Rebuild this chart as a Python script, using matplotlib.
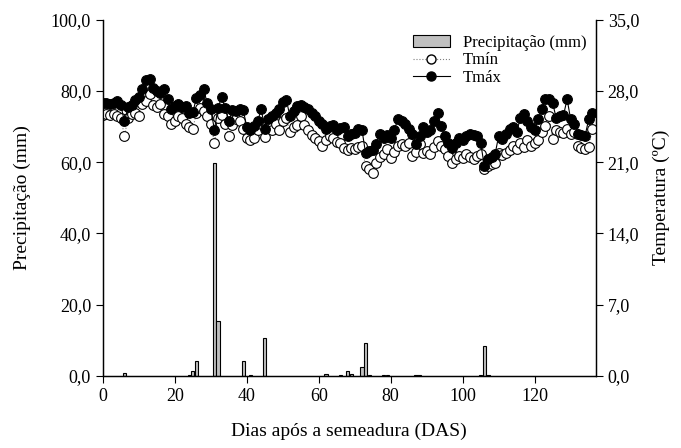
import matplotlib
matplotlib.use('Agg')
import matplotlib.pyplot as plt
from matplotlib.ticker import FuncFormatter
from matplotlib.patches import Patch
from matplotlib.lines import Line2D

# Daily temperatures (deg C), day 0..136
t_max = [26.8, 26.8, 26.7, 26.8, 27.0, 26.6, 25.0, 26.4, 26.6, 27.1,
         27.4, 28.2, 29.1, 29.2, 28.3, 28.0, 27.8, 28.2, 27.2, 26.2,
         26.5, 26.7, 26.4, 26.5, 25.8, 25.9, 27.3, 27.6, 28.2, 26.8,
         26.2, 24.2, 26.3, 27.4, 26.3, 25.0, 26.1, 26.0, 26.2, 26.1,
         24.5, 24.2, 24.6, 25.0, 26.2, 24.3, 25.2, 25.5, 25.8, 26.2,
         26.9, 27.1, 25.5, 26.0, 26.5, 26.6, 26.4, 26.2, 25.8, 25.5,
         25.0, 24.8, 24.3, 24.6, 24.7, 24.2, 24.4, 24.5, 23.6, 23.8,
         23.9, 24.3, 24.2, 21.9, 22.1, 22.2, 22.8, 23.8, 23.4, 23.7,
         23.4, 24.2, 25.2, 25.0, 24.8, 24.3, 23.8, 22.8, 23.6, 24.5,
         24.0, 24.2, 25.0, 25.8, 24.6, 23.6, 22.9, 22.4, 22.9, 23.4,
         23.2, 23.6, 23.8, 23.7, 23.6, 22.9, 20.6, 21.3, 21.5, 21.8,
         23.6, 23.3, 23.8, 24.3, 24.5, 24.0, 25.3, 25.7, 25.0, 24.5,
         24.2, 25.2, 26.2, 27.2, 27.2, 26.8, 25.3, 25.5, 25.6, 27.2,
         25.2, 24.8, 23.8, 23.7, 23.6, 25.2, 25.8]

t_min = [25.6, 25.7, 25.6, 25.7, 25.5, 25.3, 23.6, 25.3, 25.7, 25.8,
         25.5, 26.7, 27.0, 27.7, 26.6, 26.4, 26.7, 25.7, 25.5, 24.8,
         25.0, 25.5, 25.3, 24.8, 24.5, 24.3, 25.8, 26.3, 26.0, 25.5,
         24.8, 22.9, 25.3, 25.6, 24.8, 23.6, 24.7, 25.2, 25.0, 24.3,
         23.4, 23.2, 23.4, 24.2, 24.8, 23.5, 24.5, 24.2, 24.8, 24.2,
         25.0, 25.3, 24.0, 24.5, 24.7, 25.5, 24.7, 24.2, 23.7, 23.4,
         23.1, 22.6, 23.2, 23.6, 23.4, 23.0, 22.9, 22.4, 22.2, 22.4,
         22.3, 22.5, 22.6, 20.6, 20.3, 19.9, 20.9, 21.5, 21.8, 22.3,
         21.4, 22.0, 22.6, 22.8, 22.6, 22.9, 21.6, 22.0, 22.8, 21.9,
         22.1, 21.8, 22.5, 23.1, 22.6, 22.3, 21.6, 20.9, 21.3, 21.6,
         21.4, 21.8, 21.5, 21.3, 21.6, 21.8, 20.3, 20.6, 20.8, 20.9,
         21.9, 21.7, 21.9, 22.2, 22.6, 22.3, 22.9, 22.5, 23.2, 22.6,
         22.9, 23.2, 24.0, 24.6, 25.5, 23.3, 24.2, 24.0, 23.9, 24.3,
         23.8, 24.0, 22.6, 22.4, 22.3, 22.5, 24.3]

days = list(range(len(t_max)))

# Rain events (day, mm)
precip_days = [6, 24, 25, 26, 31, 32, 39, 41, 45, 62, 66, 68, 69, 72, 73, 74,
               78, 79, 87, 88, 105, 106, 107]
precip_mm = [0.8, 0.3, 1.3, 4.2, 59.8, 15.3, 4.3, 0.2, 10.7, 0.4, 0.2, 1.3,
             0.6, 2.6, 9.2, 0.3, 0.3, 0.3, 0.2, 0.2, 0.3, 8.3, 0.3]

x_ticks = [0, 20, 40, 60, 80, 100, 120]
left_ticks = [0, 20, 40, 60, 80, 100]
right_ticks = [0, 7, 14, 21, 28, 35]

plt.rcParams['font.family'] = ['Liberation Serif', 'DejaVu Serif']

comma = FuncFormatter(lambda v, p: f"{v:.1f}".replace('.', ','))

fig = plt.figure(figsize=(6.81, 4.48), dpi=100)
ax = fig.add_axes([0.151, 0.161, 0.724, 0.795])
ax2 = ax.twinx()

ax.bar(precip_days, precip_mm, width=0.9, color='#c0c0c0',
       edgecolor='black', linewidth=0.8, zorder=2)

ax2.plot(days, t_min, linestyle=':', color='gray', linewidth=0.8,
         marker='o', markersize=7, markerfacecolor='white',
         markeredgecolor='black', markeredgewidth=0.8)
ax2.plot(days, t_max, linestyle='-', color='black', linewidth=0.8,
         marker='o', markersize=7, markerfacecolor='black',
         markeredgecolor='black', markeredgewidth=0.8)

ax.set_xlim(0, 137)
ax.set_ylim(0, 100)
ax2.set_ylim(0, 35)
ax.set_xticks(x_ticks)
ax.set_yticks(left_ticks)
ax2.set_yticks(right_ticks)
ax.yaxis.set_major_formatter(comma)
ax2.yaxis.set_major_formatter(comma)

for a in (ax, ax2):
    a.spines['top'].set_visible(False)
    a.tick_params(direction='out', length=5, width=0.8, labelsize=13)
    for s in a.spines.values():
        s.set_linewidth(0.9)

ax.set_xlabel('Dias após a semeadura (DAS)', fontsize=14, labelpad=13)
ax.set_ylabel('Precipitação (mm)', fontsize=14, labelpad=14)
ax2.set_ylabel('Temperatura (ºC)', fontsize=14, labelpad=10)

handles = [
    Patch(facecolor='#c0c0c0', edgecolor='black', linewidth=0.8),
    Line2D([], [], linestyle=':', color='gray', linewidth=0.8, marker='o',
           markersize=6.5, markerfacecolor='white', markeredgecolor='black'),
    Line2D([], [], linestyle='-', color='black', linewidth=0.8, marker='o',
           markersize=6.5, markerfacecolor='black', markeredgecolor='black'),
]
ax2.legend(handles, ['Precipitação (mm)', 'Tmín', 'Tmáx'],
           loc='upper right', bbox_to_anchor=(1.012, 1.0), frameon=False,
           fontsize=12, handlelength=2.2, handletextpad=0.8,
           labelspacing=0.1, borderaxespad=0.5)

fig.savefig('out.png', dpi=100)
